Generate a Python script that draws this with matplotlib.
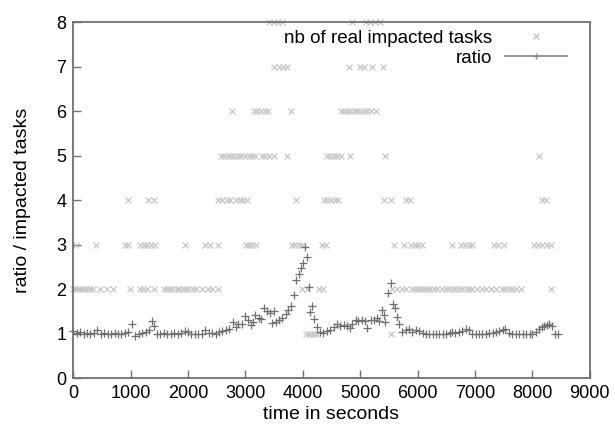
import matplotlib
matplotlib.use('Agg')
import matplotlib.pyplot as plt
from matplotlib.lines import Line2D

plt.rcParams['font.family'] = ['Liberation Sans', 'DejaVu Sans']

# nb of real impacted tasks, grouped by value
tasks_1 = [4050, 4100, 4150, 4200, 4250, 5540]
tasks_2 = [0, 50, 100, 150, 200, 250, 300, 350, 470, 590, 700,
           990, 1170, 1220, 1280, 1410,
           1580, 1640, 1690, 1740, 1800, 1850, 1910, 1960, 2020, 2080, 2140,
           2250, 2350, 2420, 2520, 3990, 4080, 4290, 4350,
           5560, 5640, 5720, 5790, 5900, 5960, 6010, 6060, 6110, 6160, 6220, 6280, 6330,
           6430, 6490, 6550, 6610, 6660, 6720, 6780, 6840, 6900, 6950,
           7040, 7120, 7190, 7280, 7360, 7470, 7530, 7590, 7650, 7720, 7800, 8320]
tasks_3 = [50, 400, 910, 960, 1170, 1230, 1290, 1350, 1430, 1950, 2300, 2390, 2530,
           3010, 3070, 3120, 3180, 3810, 3870, 3930, 3980, 4340, 4400,
           5590, 5760, 5880, 5950, 6010, 6080, 6600, 6750, 6820, 6890, 6950,
           7330, 7400, 7500, 8030, 8100, 8170, 8250, 8320]
tasks_4 = [960, 1310, 1400, 2530, 2600, 2680, 2740, 2830, 2900, 2960, 3020, 3880,
           4370, 4430, 4500, 4560, 4620, 5420, 5530, 5800, 5860, 8170, 8230]
tasks_5 = [2570, 2630, 2690, 2750, 2810, 2870, 2930, 2990, 3060, 3120, 3170,
           3290, 3350, 3420, 3490, 3720, 4420, 4480, 4540, 4600, 4660, 4830, 5440, 8120]
tasks_6 = [2760, 3150, 3210, 3280, 3340, 3400, 3790,
           4660, 4720, 4770, 4830, 4890, 4950, 5000, 5070, 5120, 5180, 5270]
tasks_7 = [3500, 3580, 3650, 3720, 4810, 5000, 5060, 5210, 5390]
tasks_8 = [3420, 3490, 3560, 3640, 4860, 5100, 5170, 5250, 5340]

# ratio
ratio_t = [0, 60, 120, 180, 240, 300, 360, 420, 480, 540, 600, 660, 720, 780, 840,
           900, 960, 1020, 1080, 1140, 1200, 1260, 1320, 1380, 1410, 1460, 1520, 1580,
           1640, 1700, 1760, 1820, 1880, 1940, 2000, 2060, 2120, 2180, 2240, 2300, 2360,
           2420, 2480, 2540, 2600,
           2660, 2720, 2790, 2830, 2880, 2940, 3000, 3040, 3090, 3130, 3170, 3230, 3280,
           3320, 3370, 3430, 3460, 3500, 3530, 3580, 3640, 3700, 3740, 3790, 3840, 3890,
           3930, 3970, 4000, 4030, 4070, 4100, 4120, 4160, 4200, 4250, 4300, 4360,
           4420, 4480, 4540, 4600, 4650, 4710, 4770, 4830, 4860, 4920, 4970, 5030, 5090,
           5120, 5180, 5240, 5290, 5320, 5380, 5410, 5440, 5490, 5540, 5570, 5610, 5640,
           5680, 5730,
           5790, 5850, 5910, 5970, 6030, 6090, 6140, 6200, 6260, 6320, 6380, 6440, 6500,
           6560, 6600, 6660, 6720, 6780, 6840, 6890, 6950, 7010, 7070, 7130, 7190, 7250,
           7310, 7370, 7420, 7480, 7530, 7590, 7650, 7710, 7770, 7830, 7890, 7950, 8000,
           8060, 8110, 8160, 8200, 8250, 8290, 8340, 8390, 8450]
ratio_v = [1.05, 1.02, 1.03, 1.0, 1.01, 0.99, 1.02, 1.07, 1.0, 1.01, 0.99, 1.0, 1.01, 1.0, 1.0,
           1.02, 1.04, 1.22, 0.95, 0.98, 1.01, 1.03, 1.07, 1.28, 1.18, 1.0, 1.0, 1.01,
           1.0, 0.99, 1.01, 1.0, 1.02, 1.05, 1.03, 1.0, 1.0, 0.99, 1.0, 1.07, 1.02,
           1.01, 1.0, 1.04, 1.06,
           1.08, 1.1, 1.27, 1.15, 1.22, 1.21, 1.39, 1.3, 1.2, 1.25, 1.41, 1.36, 1.32,
           1.57, 1.5, 1.46, 1.24, 1.5, 1.26, 1.31, 1.36, 1.45, 1.52, 1.63, 1.86, 2.21,
           2.34, 2.48, 2.58, 2.95, 2.71, 2.04, 1.49, 1.62, 1.33, 1.15, 1.04, 1.02,
           1.06, 1.09, 1.15, 1.21, 1.17, 1.19, 1.17, 1.12, 1.22, 1.3, 1.28, 1.3, 1.28,
           1.13, 1.3, 1.31, 1.36, 1.28, 1.53, 1.42, 1.27, 1.92, 2.13, 1.66, 1.57, 1.38,
           1.21, 1.04,
           1.09, 1.1, 1.04, 1.07, 1.05, 1.02, 1.0, 1.0, 1.0, 0.99, 1.0, 0.99, 1.0,
           1.02, 1.04, 1.02, 1.03, 1.06, 1.11, 1.07, 1.0, 1.0, 1.0, 1.0, 1.0, 1.01,
           1.02, 1.04, 1.06, 1.08, 1.1, 1.01, 1.0, 1.0, 1.0, 1.0, 1.0, 0.99, 0.98,
           1.04, 1.11, 1.14, 1.16, 1.2, 1.21, 1.16, 1.0, 1.0]

tasks = [tasks_1, tasks_2, tasks_3, tasks_4, tasks_5, tasks_6, tasks_7, tasks_8]
task_t = []
task_v = []
for i, lst in enumerate(tasks):
    task_t += lst
    task_v += [i + 1] * len(lst)

light = '#c8c8c8'
dark = '#707070'

fig = plt.figure(figsize=(6.15, 4.34), dpi=100)
ax = fig.add_axes([0.119, 0.129, 0.840, 0.820])

ax.plot(task_t, task_v, linestyle='none', marker='x', color=light,
        markersize=5, markeredgewidth=0.9, clip_on=False)
ax.plot(ratio_t, ratio_v, linestyle='none', marker='+', color=dark,
        markersize=5.5, markeredgewidth=0.9, clip_on=False)

ax.set_xlim(0, 9000)
ax.set_ylim(0, 8)
ax.set_xticks(range(0, 9001, 1000))
ax.set_yticks(range(0, 9))
ax.tick_params(direction='in', length=6, width=1, color='#707070',
               labelsize=13, top=False, right=False, pad=5)
for s in ax.spines.values():
    s.set_color('#707070')
    s.set_linewidth(1.3)
ax.set_xlabel('time in seconds', fontsize=14, labelpad=3)
ax.set_ylabel('ratio / impacted tasks', fontsize=14, labelpad=18)

handles = [Line2D([], [], linestyle='none', marker='x', color=light, markersize=5),
           Line2D([], [], linestyle='-', marker='+', color='#909090', markersize=5,
                  linewidth=1.3)]
ax.legend(handles, ['nb of real impacted tasks', 'ratio'], loc='upper right',
          bbox_to_anchor=(0.971, 1.0), frameon=False, markerfirst=False,
          fontsize=13.5, handlelength=3.3, labelspacing=0.16, borderaxespad=0,
          handletextpad=0.7)

plt.savefig('out.png', dpi=100)
